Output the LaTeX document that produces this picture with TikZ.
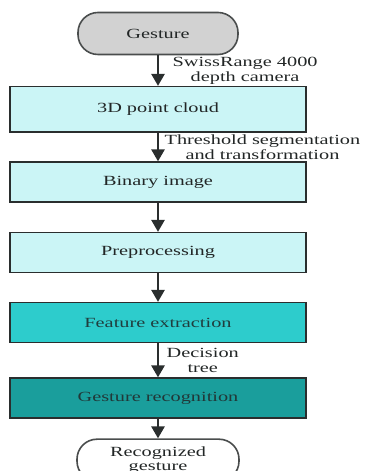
\documentclass[tikz,border=0pt]{standalone}
\usepackage{fontspec}
\setmainfont{Liberation Serif}[FakeStretch=1.45]
\usepackage{tikz}
\usetikzlibrary{arrows.meta, positioning}
\definecolor{lightcyan}{HTML}{CBF5F6}
\definecolor{midteal}{HTML}{2DCCCC}
\definecolor{darkteal}{HTML}{1A9E9C}
\definecolor{termgray}{HTML}{D2D2D2}
\definecolor{lineblack}{HTML}{2A2E2E}
\definecolor{textdark}{HTML}{222626}
\tikzset{
    block_light/.style={rectangle, draw=lineblack, line width=1.6pt, fill=lightcyan, text=textdark, minimum width=296pt, minimum height=40pt},
    block_mid/.style={rectangle, draw=lineblack, line width=1.6pt, fill=midteal, text=textdark!80!darkteal, minimum width=296pt, minimum height=40pt},
    block_dark/.style={rectangle, draw=lineblack, line width=1.6pt, fill=darkteal, text=textdark!85!darkteal, minimum width=296pt, minimum height=40pt},
    term_gray/.style={rectangle, rounded corners=20pt, draw=lineblack!85, line width=1.6pt, fill=termgray, text=textdark, minimum width=160pt, minimum height=42pt},
    term_white/.style={rectangle, rounded corners=20pt, draw=lineblack!85, line width=1.6pt, fill=white, text=textdark, align=center, minimum width=162pt, minimum height=42pt},
    arrow/.style={-{Triangle[width=13pt,length=12pt]}, line width=2.6pt, draw=lineblack}
}
\begin{document}
\begin{tikzpicture}[x=1pt, y=1pt, node distance=28.4pt, font=\fontsize{14}{15.5}\selectfont]
    \useasboundingbox (0,0) rectangle (368,471);
    \node (gesture) [term_gray] at (158,437.5) {Gesture};
    \node (cloud) [block_light, below=30.6pt of gesture, minimum height=45.5pt] {3D point cloud};
    \node (binary) [block_light, below=of cloud] {Binary image};
    \node (prep) [block_light, below=28.9pt of binary] {Preprocessing};
    \node (feat) [block_mid, below=of prep] {Feature extraction};
    \node (recog) [block_dark, below=33.9pt of feat] {Gesture recognition};
    \node (result) [term_white, below=19.4pt of recog, font=\fontsize{14}{14.5}\selectfont] {Recognized\\gesture};

    \draw [arrow] (gesture) -- node[right, xshift=10pt, align=center, text=textdark] {SwissRange 4000\\depth camera} (cloud);
    \draw [arrow] (cloud) -- node[right, xshift=2pt, align=center, text=textdark] {Threshold segmentation\\and transformation} (binary);
    \draw [arrow] (binary) -- (prep);
    \draw [arrow] (prep) -- (feat);
    \draw [arrow] (feat) -- node[right, xshift=4pt, align=center, text=textdark] {Decision\\tree} (recog);
    \draw [arrow] (recog) -- (result);
\end{tikzpicture}
\end{document}
